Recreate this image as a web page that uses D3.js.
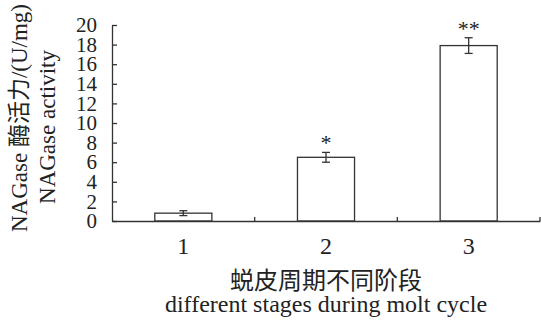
<!DOCTYPE html>
<html>
<head>
<meta charset="utf-8">
<script src="https://cdn.jsdelivr.net/npm/d3@7"></script>
<style>
  body { margin: 0; background: #fff; }
  text { font-family: "Liberation Serif", "Times New Roman", "Noto Sans CJK SC", serif; fill: #222; }
</style>
</head>
<body>
<div id="chart"></div>
<script>
// values
const stages = ['1', '2', '3'];
const activity = [0.8, 6.5, 17.9];
const errors = [0.25, 0.5, 0.8];
const marks = ['', '*', '**'];
const yTicks = [0, 2, 4, 6, 8, 10, 12, 14, 16, 18, 20];

const width = 541;
const height = 323;
const margin = { top: 25, right: 1, bottom: 102, left: 112 };

const svg = d3.select('#chart')
    .append('svg')
    .attr('width', width)
    .attr('height', height);

// scales
const x = d3.scaleBand()
    .domain(stages)
    .range([margin.left, width - margin.right])
    .padding(0);

const y = d3.scaleLinear()
    .domain([0, 20])
    .range([height - margin.bottom, margin.top]);

const barW = x.bandwidth() * 0.4;
const stroke = '#333';

// bars
svg.append('g')
    .selectAll('rect')
    .data(stages)
    .join('rect')
    .attr('x', d => x(d) + (x.bandwidth() - barW) / 2)
    .attr('y', (d, i) => y(activity[i]))
    .attr('width', barW)
    .attr('height', (d, i) => y(0) - y(activity[i]))
    .attr('fill', '#fff')
    .attr('stroke', stroke)
    .attr('stroke-width', 1.3);

// error bars
const err = svg.append('g').attr('stroke', stroke).attr('stroke-width', 1.3);
stages.forEach((s, i) => {
    const cx = x(s) + x.bandwidth() / 2;
    err.append('line').attr('x1', cx).attr('x2', cx)
        .attr('y1', y(activity[i] + errors[i])).attr('y2', y(activity[i] - errors[i]));
    [activity[i] + errors[i], activity[i] - errors[i]].forEach(v => {
        err.append('line').attr('x1', cx - 4).attr('x2', cx + 4)
            .attr('y1', y(v)).attr('y2', y(v));
    });
});

// significance stars
svg.append('g')
    .selectAll('text')
    .data(stages)
    .join('text')
    .attr('x', d => x(d) + x.bandwidth() / 2)
    .attr('y', (d, i) => y(activity[i] + errors[i]) - 2)
    .attr('text-anchor', 'middle')
    .attr('font-size', '22px')
    .text((d, i) => marks[i]);

// y axis, ticks pointing inward
function yAxis(g) {
    g.attr('transform', `translate(${margin.left},0)`)
     .call(d3.axisLeft(y).tickValues(yTicks).tickSizeInner(-5).tickSizeOuter(0).tickPadding(15))
     .attr('font-size', '21px')
     .attr('font-family', null);
    g.selectAll('line, path').attr('stroke', stroke).attr('stroke-width', 1.3);
    g.selectAll('text').attr('fill', '#222');
}

// x axis, labels under the bars, short ticks between the groups
function xAxis(g) {
    g.attr('transform', `translate(0,${y(0)})`)
     .call(d3.axisBottom(x).tickSize(0).tickPadding(16))
     .attr('font-size', '24px')
     .attr('font-family', null);
    g.select('.domain').attr('stroke', stroke).attr('stroke-width', 1.3);
    g.selectAll('text').attr('fill', '#222');
    g.selectAll('.sep')
     .data(stages)
     .join('line')
     .attr('class', 'sep')
     .attr('x1', d => x(d) + x.bandwidth())
     .attr('x2', d => x(d) + x.bandwidth())
     .attr('y1', 0).attr('y2', -4)
     .attr('stroke', stroke).attr('stroke-width', 1.3);
}

svg.append('g').call(yAxis);
svg.append('g').call(xAxis);

// axis titles
const cx = (margin.left + width - margin.right) / 2;
svg.append('text')
    .attr('x', cx).attr('y', 289)
    .attr('text-anchor', 'middle')
    .attr('font-size', '24px')
    .text('蜕皮周期不同阶段');
svg.append('text')
    .attr('x', cx).attr('y', 312)
    .attr('text-anchor', 'middle')
    .attr('font-size', '24px')
    .text('different stages during molt cycle');

svg.append('text')
    .attr('transform', 'translate(27,118) rotate(-90)')
    .attr('text-anchor', 'middle')
    .attr('font-size', '23px')
    .text('NAGase 酶活力/(U/mg)');
svg.append('text')
    .attr('transform', 'translate(55,127) rotate(-90)')
    .attr('text-anchor', 'middle')
    .attr('font-size', '23px')
    .text('NAGase activity');
</script>
</body>
</html>
